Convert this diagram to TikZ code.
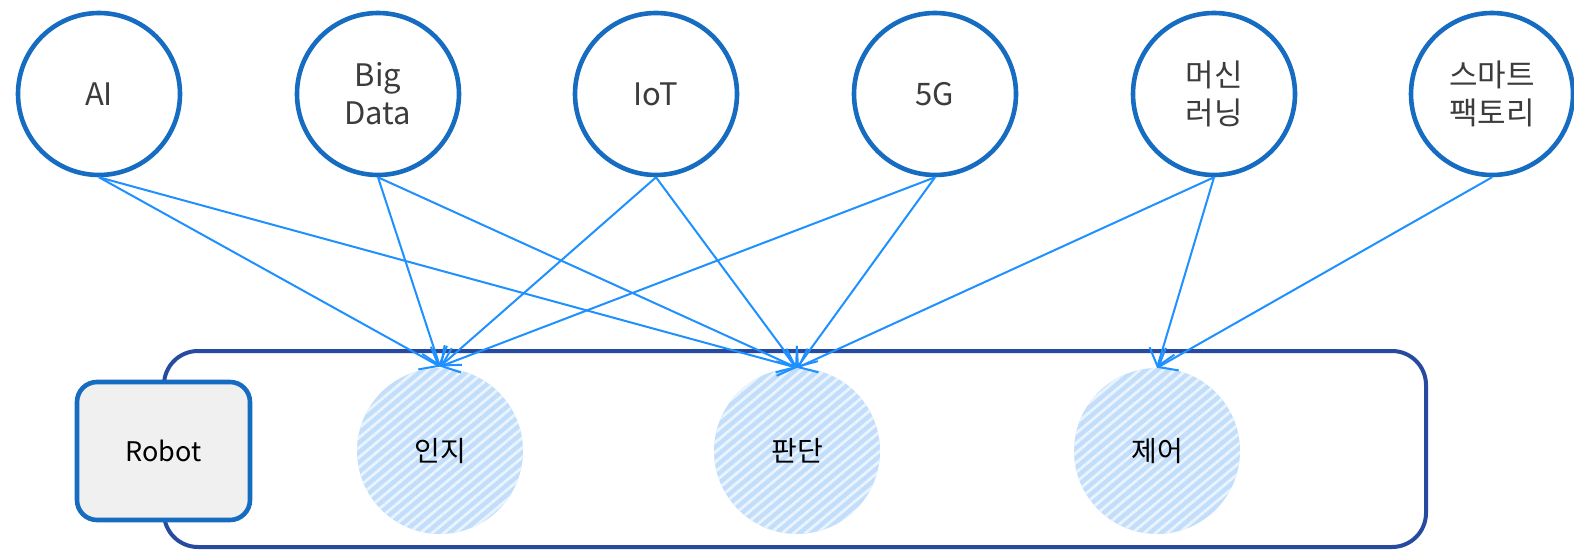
\documentclass[tikz,border=0pt]{standalone}
\usepackage{fontspec}
\setmainfont{Noto Sans CJK KR}
\usetikzlibrary{arrows.meta,patterns.meta}
\definecolor{ringblue}{RGB}{22,108,192}
\definecolor{arrowblue}{RGB}{30,144,255}
\definecolor{framecol}{RGB}{38,74,160}
\definecolor{stripeA}{RGB}{194,222,250}
\definecolor{stripeB}{RGB}{234,244,254}
\definecolor{labelgray}{RGB}{60,60,60}
\definecolor{robotfill}{RGB}{240,240,240}
\tikzset{
  topcircle/.style={circle, draw=ringblue, line width=4.6pt, fill=white, minimum size=162pt, inner sep=0pt,
    align=center, text=labelgray, font=\fontsize{31}{38}\selectfont},
  stagecircle/.style={circle, minimum size=166pt, inner sep=0pt, preaction={fill=stripeA},
    pattern={Lines[angle=40,distance=7.5pt,line width=2.8pt]}, pattern color=stripeB,
    font=\fontsize{28}{32}\selectfont},
  link/.style={draw=arrowblue, line width=2pt, -{Straight Barb[length=16pt,width=26pt,line width=2pt]}},
}
\begin{document}
\begin{tikzpicture}[x=1pt,y=-1pt]
\useasboundingbox (0,0) rectangle (1574,553);
% frame
\node[draw=framecol, line width=4pt, rounded corners=34pt, minimum width=1262pt, minimum height=196pt, inner sep=0pt] (frame) at (795,449) {};
% robot
\node[draw=ringblue, fill=robotfill, line width=4.6pt, rounded corners=20pt, minimum width=173pt, minimum height=138pt, inner sep=0pt,
  font=\fontsize{27}{30}\selectfont] (robot) at (163.5,451) {Robot};
% stages
\node[stagecircle] (rec) at (440,451) {인지};
\node[stagecircle] (jud) at (797,451) {판단};
\node[stagecircle] (ctl) at (1157,451) {제어};
% top circles
\node[topcircle] (ai) at (99,94) {AI};
\node[topcircle] (bd) at (378,94) {Big\\Data};
\node[topcircle] (iot) at (656,94) {IoT};
\node[topcircle] (fg) at (935,94) {5G};
\node[topcircle] (ml) at (1214,94) {머신\\러닝};
\node[topcircle] (sf) at (1492,94) {스마트\\팩토리};
% links
\draw[link] (ai.south) -- (rec.north);
\draw[link] (ai.south) -- (jud.north);
\draw[link] (bd.south) -- (rec.north);
\draw[link] (bd.south) -- (jud.north);
\draw[link] (iot.south) -- (rec.north);
\draw[link] (iot.south) -- (jud.north);
\draw[link] (fg.south) -- (rec.north);
\draw[link] (fg.south) -- (jud.north);
\draw[link] (ml.south) -- (jud.north);
\draw[link] (ml.south) -- (ctl.north);
\draw[link] (sf.south) -- (ctl.north);
\end{tikzpicture}
\end{document}
